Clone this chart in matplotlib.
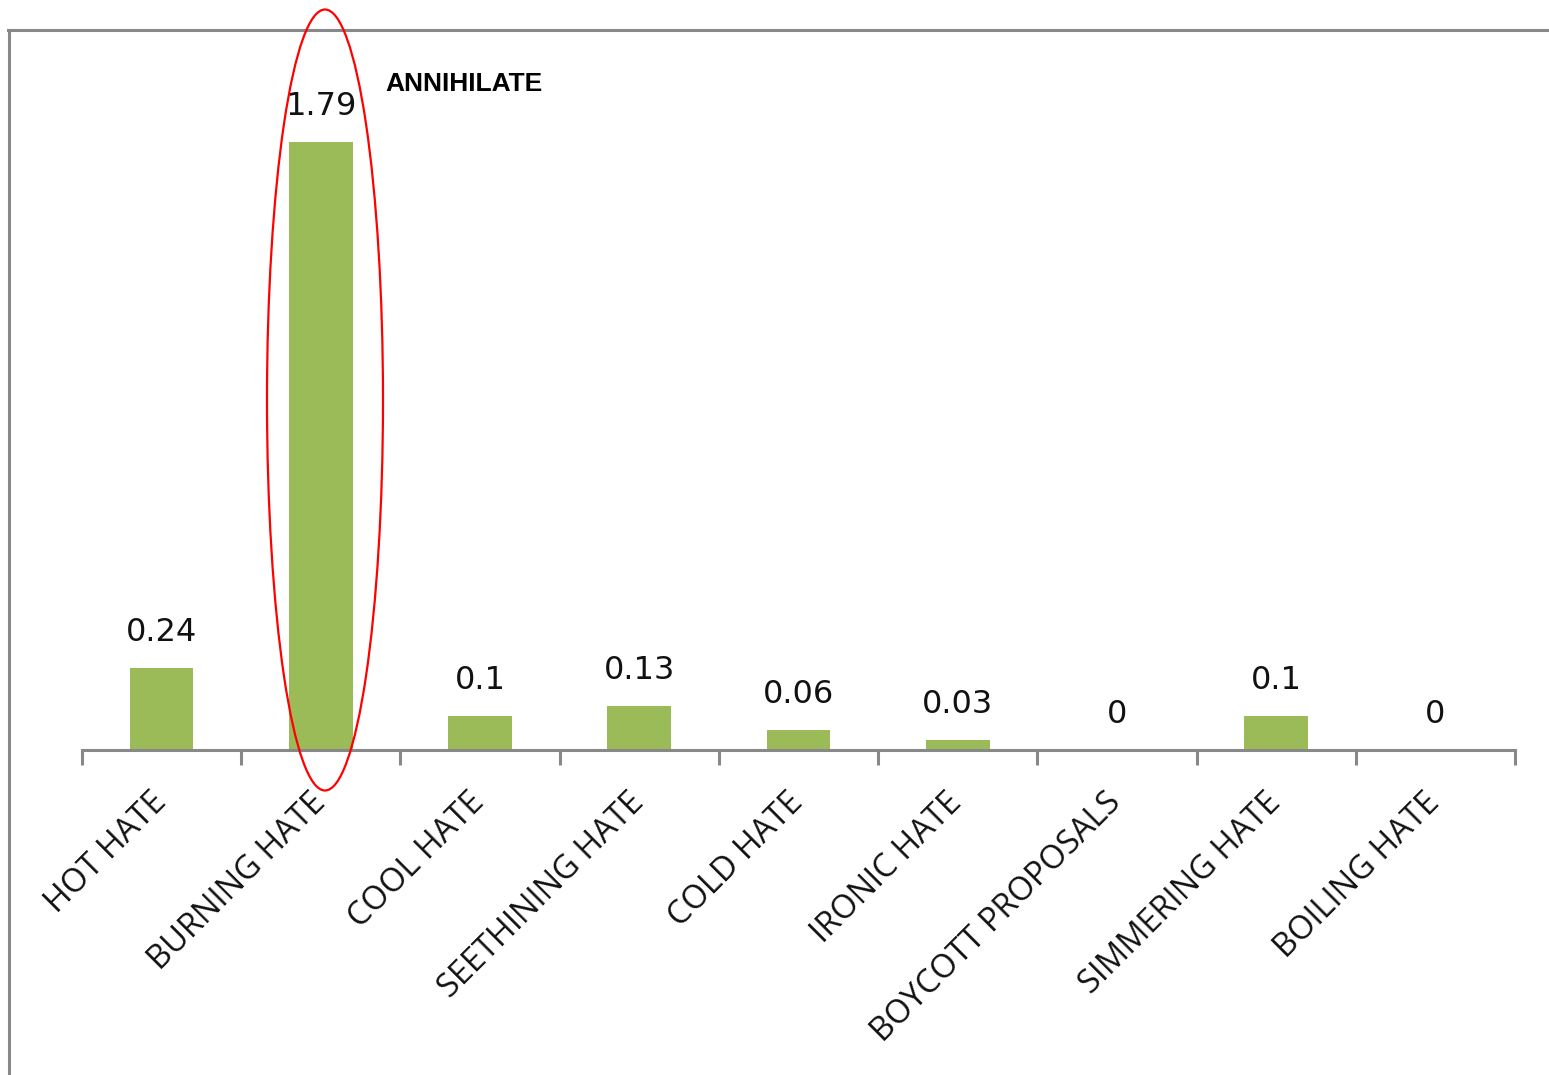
import matplotlib
matplotlib.use("Agg")
import matplotlib.pyplot as plt
from matplotlib.patches import Ellipse
from matplotlib.lines import Line2D
from matplotlib.transforms import ScaledTranslation

categories = ["HOT HATE", "BURNING HATE", "COOL HATE", "SEETHINING HATE",
              "COLD HATE", "IRONIC HATE", "BOYCOTT PROPOSALS",
              "SIMMERING HATE", "BOILING HATE"]
values = [0.24, 1.79, 0.1, 0.13, 0.06, 0.03, 0, 0.1, 0]
value_labels = ["0.24", "1.79", "0.1", "0.13", "0.06", "0.03", "0", "0.1", "0"]
callout_text = "ANNIHILATE"

W, H = 1549, 1075
fig = plt.figure(figsize=(W / 100, H / 100), dpi=100)
fig.patch.set_facecolor("white")

gray = "#888888"
bar_color = "#9BBB59"

# outer chart frame (top and left edges)
fig.add_artist(Line2D([8 / W, 1.0], [1 - 29.5 / H, 1 - 29.5 / H],
                      transform=fig.transFigure, color=gray, lw=2.2))
fig.add_artist(Line2D([9 / W, 9 / W], [0, 1 - 29.5 / H],
                      transform=fig.transFigure, color=gray, lw=2.2))

ax = fig.add_axes([82 / W, 1 - 750 / H, (1515 - 82) / W, (750 - 30) / H])
ax.set_facecolor("none")
x = list(range(len(categories)))
ax.bar(x, values, width=0.4, color=bar_color, zorder=2)
ax.set_xlim(-0.5, len(categories) - 0.5)
ax.set_ylim(0, 720 / 339.7)

for s in ["top", "right", "left"]:
    ax.spines[s].set_visible(False)
ax.spines["bottom"].set_color(gray)
ax.spines["bottom"].set_linewidth(2.2)
ax.set_yticks([])

# ticks at category boundaries, labels at category centres
ax.set_xticks([i - 0.5 for i in range(len(categories) + 1)])
ax.set_xticklabels([])
ax.tick_params(axis="x", which="major", direction="out", length=11,
               width=2.2, color=gray)
ax.set_xticks(x, minor=True)
ax.set_xticklabels(categories, minor=True, rotation=45, ha="right",
                   rotation_mode="anchor", fontsize=23.5, color="#111111",
                   fontfamily="Open Sans")
ax.tick_params(axis="x", which="minor", length=0, pad=26)
shift = ScaledTranslation(-0.12, 0, fig.dpi_scale_trans)
for lbl in ax.get_xticklabels(minor=True):
    lbl.set_transform(lbl.get_transform() + shift)

for xi, v, lab in zip(x, values, value_labels):
    ax.annotate(lab, (xi, v), xytext=(0, 19.5), textcoords="offset points",
                ha="center", va="baseline", fontsize=23,
                fontfamily="DejaVu Sans", color="#111111")

# highlight around the tallest bar
fig.add_artist(Ellipse((325 / W, 1 - 400 / H), 116 / W, 781 / H,
                       transform=fig.transFigure, fill=False,
                       edgecolor="#FF0000", lw=1.6, zorder=5))
fig.text(385 / W, 1 - 91 / H, callout_text, ha="left", va="baseline",
         fontsize=19, fontweight="bold", fontfamily="Liberation Sans",
         color="black")

fig.savefig("out.png", dpi=100, facecolor="white")
